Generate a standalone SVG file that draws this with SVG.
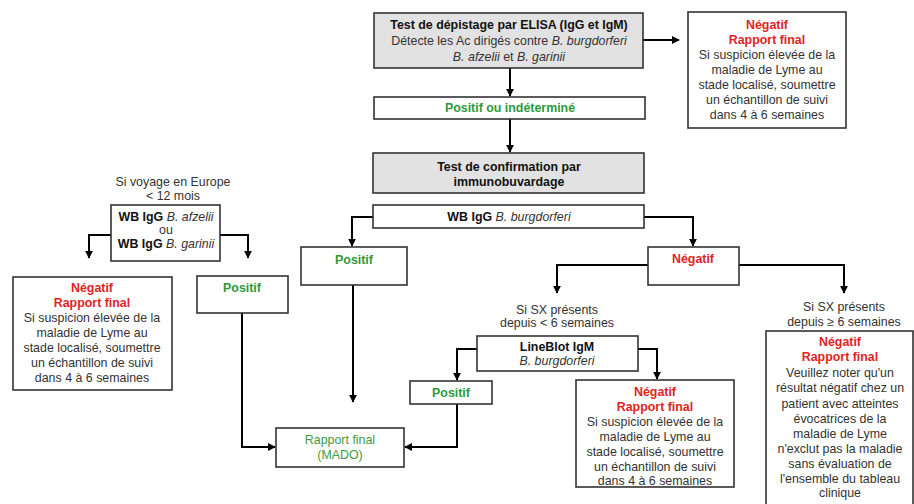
<svg xmlns="http://www.w3.org/2000/svg" width="914" height="504" viewBox="0 0 914 504">
<defs>
<marker id="ah" viewBox="0 0 10 10" refX="9" refY="5" markerWidth="4" markerHeight="4" orient="auto" markerUnits="strokeWidth">
<path d="M0,0 L10,5 L0,10 Z" fill="#000"/>
</marker>
<style>
text{font-family:"Liberation Sans",Arial,sans-serif;font-size:12.4px;fill:#333;text-anchor:middle}
.b{font-weight:bold;fill:#111}
.i{font-style:italic}
.red{font-weight:bold;fill:#e0231f}
.grn{font-weight:bold;fill:#2e9a3a}
.mado{fill:#3f9a45}
rect{fill:#fff;stroke:#333;stroke-width:1.6}
rect.g{fill:#e2e2e2}
#connectors path{fill:none;stroke:#000;stroke-width:2;marker-end:url(#ah)}
</style>
</defs>
<rect x="0" y="0" width="914" height="504" style="fill:#fff;stroke:none"/>

<g id="connectors">
<path d="M510,68 V96"/>
<path d="M643,40 H679"/>
<path d="M510,119 V152"/>
<path d="M373,217 H352 V246"/>
<path d="M644,217 H693 V246"/>
<path d="M353,285 V402"/>
<path d="M648,265 H557 V293"/>
<path d="M739,265 H844 V293"/>
<path d="M477,349 H457 V380"/>
<path d="M638,349 H657 V379"/>
<path d="M457,404 V447 H405"/>
<path d="M111,235 H89 V258"/>
<path d="M220,235 H248 V258"/>
<path d="M242,313 V447 H275"/>
</g>

<g id="elisa">
<rect class="g" x="374" y="13" width="269" height="55"/>
<text x="509" y="29" class="b">Test de dépistage par ELISA (IgG et IgM)</text>
<text x="509" y="45">Détecte les Ac dirigés contre <tspan class="i">B. burgdorferi</tspan></text>
<text x="509" y="61"><tspan class="i">B. afzelii</tspan> et <tspan class="i">B. garinii</tspan></text>
</g>

<g id="neg-top">
<rect x="688" y="12" width="158" height="116"/>
<text x="767" y="29" class="red">Négatif</text>
<text x="767" y="44" class="red">Rapport final</text>
<text x="767" y="59">Si suspicion élevée de la</text>
<text x="767" y="74">maladie de Lyme au</text>
<text x="767" y="89">stade localisé, soumettre</text>
<text x="767" y="104">un échantillon de suivi</text>
<text x="767" y="119">dans 4 à 6 semaines</text>
</g>

<g id="pos-indet">
<rect x="374" y="97" width="271" height="22"/>
<text x="510" y="112" class="grn">Positif ou indéterminé</text>
</g>

<g id="confirm">
<rect class="g" x="373" y="153" width="271" height="40"/>
<text x="509" y="171" class="b">Test de confirmation par</text>
<text x="509" y="186" class="b">immunobuvardage</text>
</g>

<g id="wb-burg">
<rect x="373" y="205" width="271" height="23"/>
<text x="509" y="221"><tspan class="b">WB IgG</tspan> <tspan class="i">B. burgdorferi</tspan></text>
</g>

<g id="pos-mid">
<rect x="301" y="247" width="106" height="38"/>
<text x="354" y="264" class="grn">Positif</text>
</g>

<g id="neg-mid">
<rect x="648" y="247" width="91" height="38"/>
<text x="693" y="263" class="red">Négatif</text>
</g>

<g id="sx-lt6">
<text x="557" y="314">Si SX présents</text>
<text x="557" y="327">depuis &lt; 6 semaines</text>
</g>

<g id="sx-ge6">
<text x="844" y="311">Si SX présents</text>
<text x="844" y="326">depuis ≥ 6 semaines</text>
</g>

<g id="lineblot">
<rect x="477" y="336" width="161" height="35"/>
<text x="557" y="351" class="b">LineBlot IgM</text>
<text x="557" y="365" class="i">B. burgdorferi</text>
</g>

<g id="pos-lb">
<rect x="410" y="381" width="82" height="23"/>
<text x="451" y="397" class="grn">Positif</text>
</g>

<g id="neg-lb">
<rect x="576" y="380" width="158" height="107"/>
<text x="655" y="396" class="red">Négatif</text>
<text x="655" y="411" class="red">Rapport final</text>
<text x="655" y="426">Si suspicion élevée de la</text>
<text x="655" y="441">maladie de Lyme au</text>
<text x="655" y="456">stade localisé, soumettre</text>
<text x="655" y="471">un échantillon de suivi</text>
<text x="655" y="485">dans 4 à 6 semaines</text>
</g>

<g id="neg-right">
<rect x="766" y="331" width="147" height="185"/>
<text x="840" y="346" class="red">Négatif</text>
<text x="840" y="361" class="red">Rapport final</text>
<text x="840" y="377">Veuillez noter qu'un</text>
<text x="840" y="392">résultat négatif chez un</text>
<text x="840" y="408">patient avec atteintes</text>
<text x="840" y="423">évocatrices de la</text>
<text x="840" y="438">maladie de Lyme</text>
<text x="840" y="453">n'exclut pas la maladie</text>
<text x="840" y="468">sans évaluation de</text>
<text x="840" y="483">l'ensemble du tableau</text>
<text x="840" y="497">clinique</text>
</g>

<g id="mado">
<rect x="276" y="428" width="128" height="39"/>
<text x="340" y="444" class="mado">Rapport final</text>
<text x="340" y="459" class="mado">(MADO)</text>
</g>

<g id="voyage">
<text x="173" y="186">Si voyage en Europe</text>
<text x="173" y="200">&lt; 12 mois</text>
</g>

<g id="wb-eu">
<rect x="111" y="205" width="109" height="56"/>
<text x="166" y="221"><tspan class="b">WB IgG</tspan> <tspan class="i">B. afzelii</tspan></text>
<text x="166" y="234">ou</text>
<text x="166" y="248"><tspan class="b">WB IgG</tspan> <tspan class="i">B. garinii</tspan></text>
</g>

<g id="neg-left">
<rect x="13" y="277" width="159" height="113"/>
<text x="92" y="292" class="red">Négatif</text>
<text x="92" y="307" class="red">Rapport final</text>
<text x="92" y="322">Si suspicion élevée de la</text>
<text x="92" y="337">maladie de Lyme au</text>
<text x="92" y="352">stade localisé, soumettre</text>
<text x="92" y="367">un échantillon de suivi</text>
<text x="92" y="382">dans 4 à 6 semaines</text>
</g>

<g id="pos-left">
<rect x="197" y="276" width="91" height="37"/>
<text x="242" y="292" class="grn">Positif</text>
</g>
</svg>
